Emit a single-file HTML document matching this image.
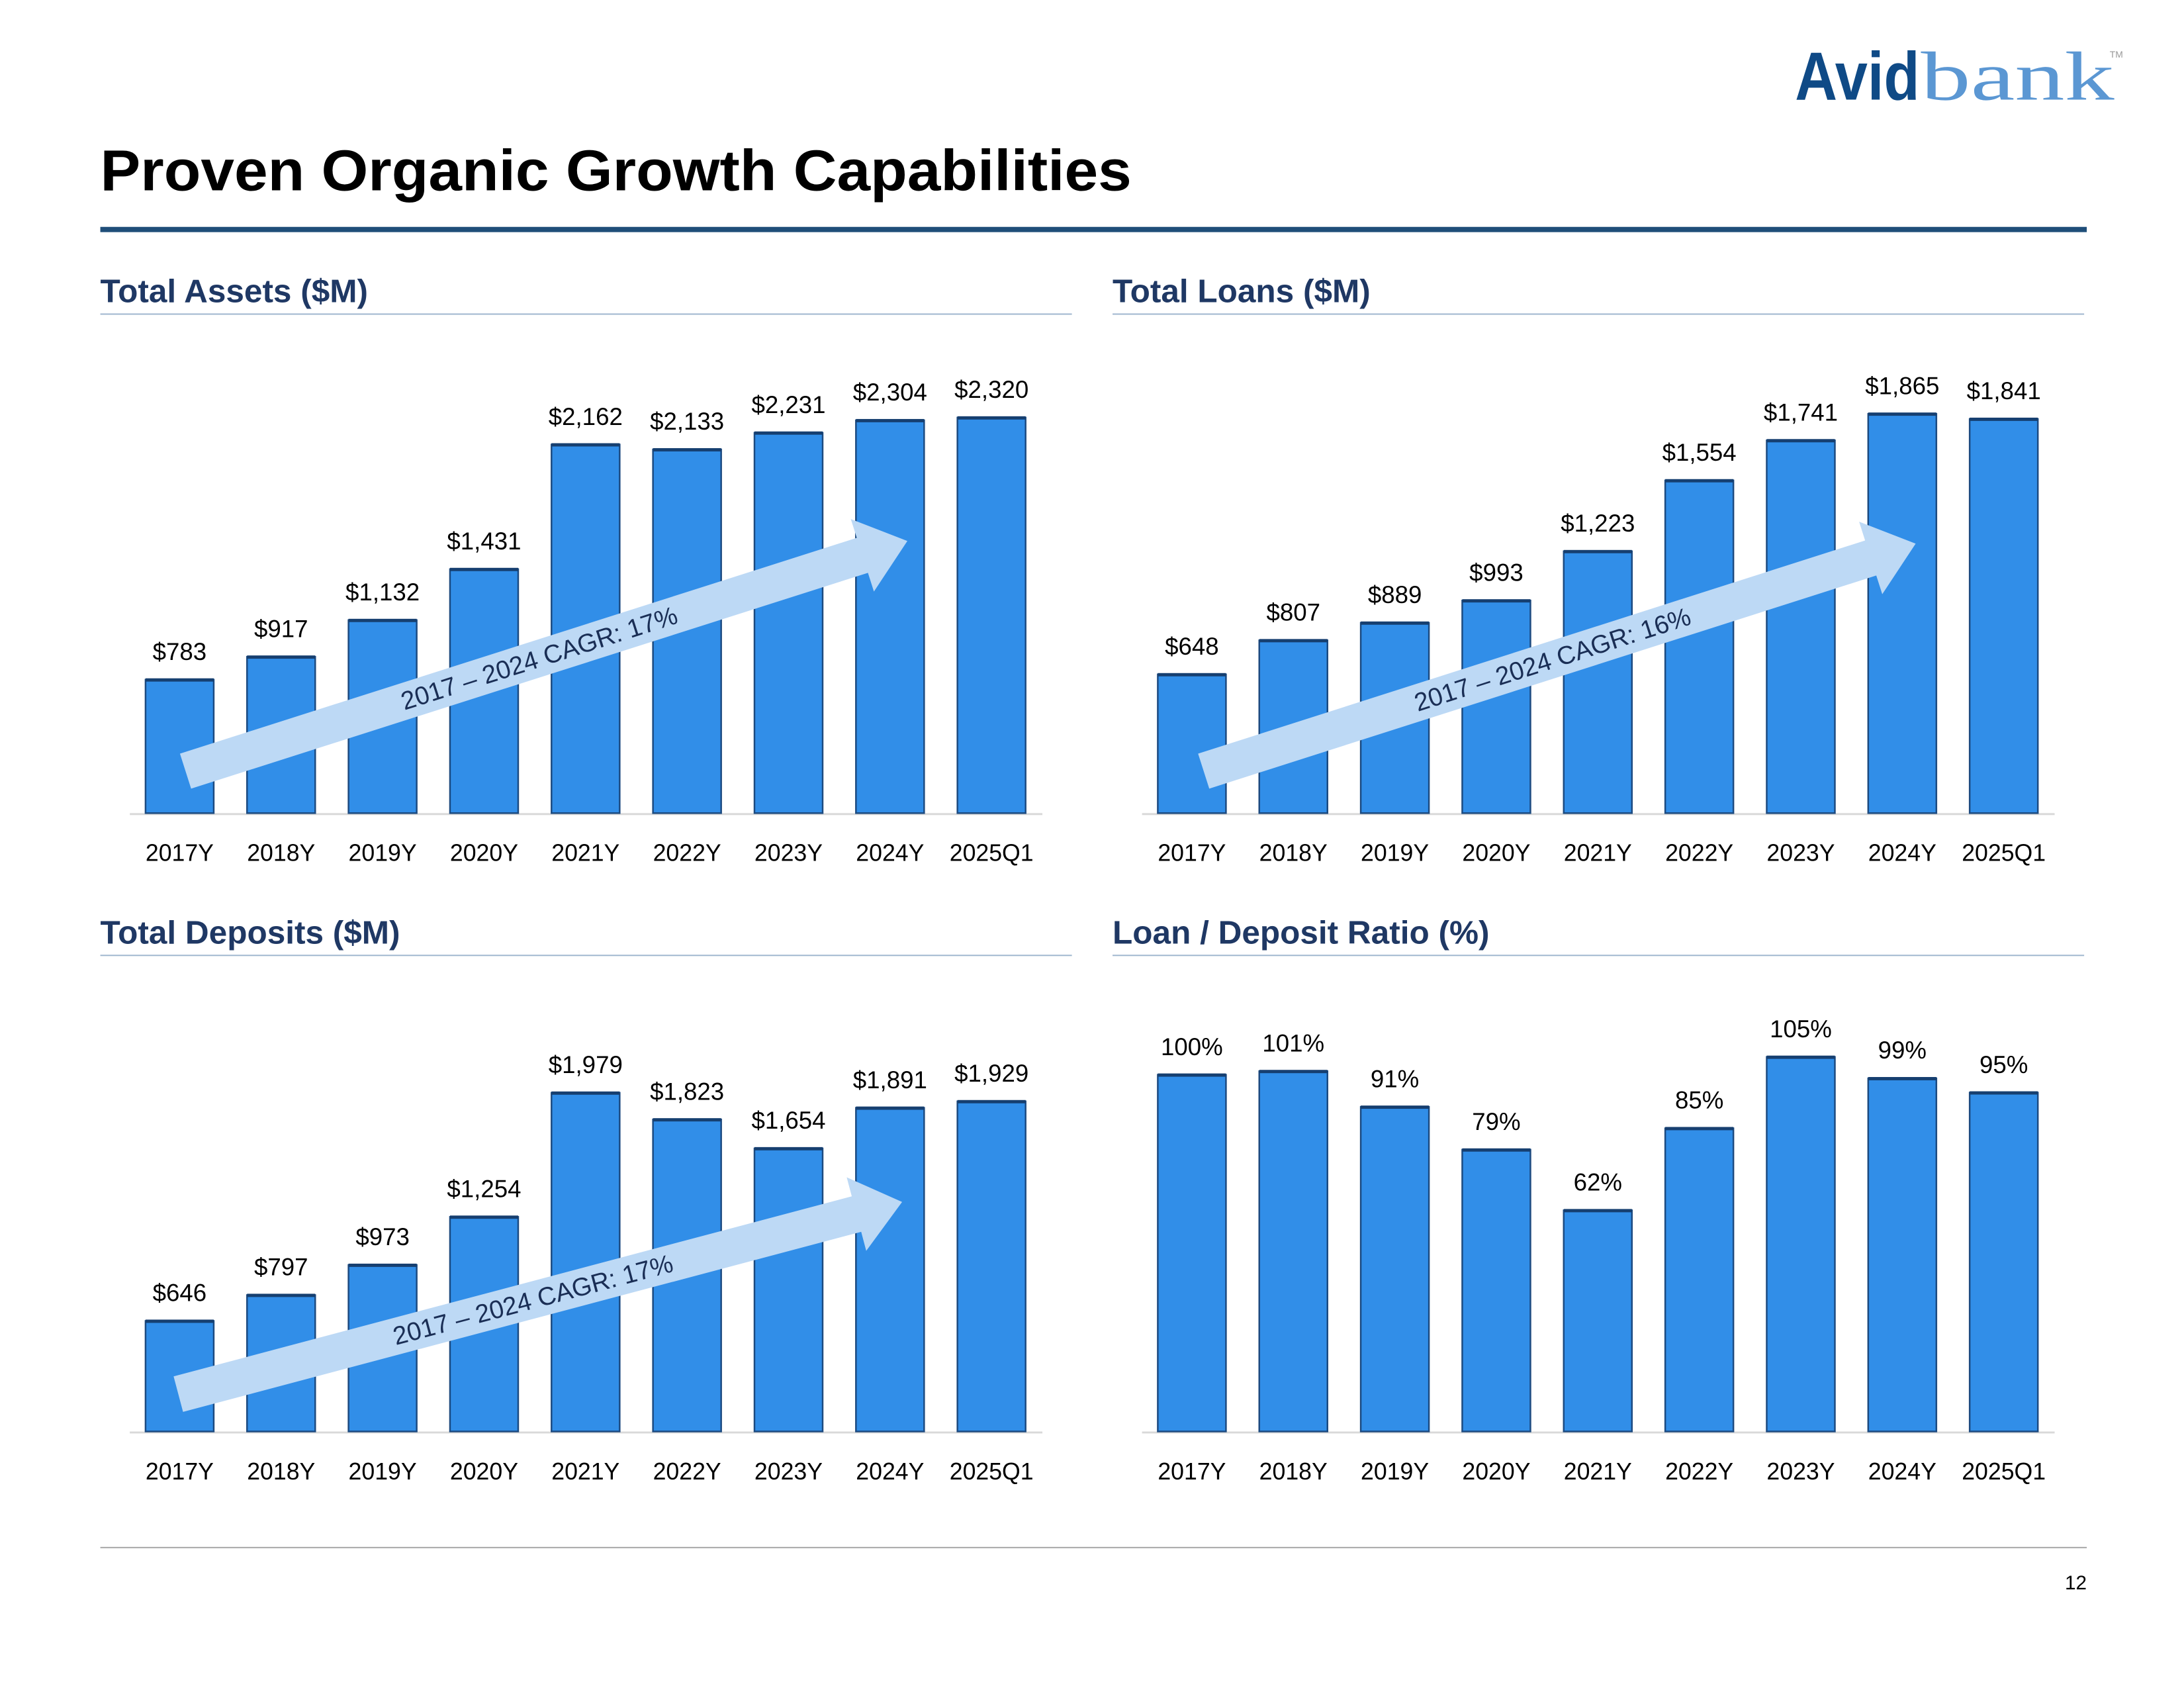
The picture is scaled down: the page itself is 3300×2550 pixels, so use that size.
<!DOCTYPE html>
<html><head><meta charset="utf-8"><style>
html,body{margin:0;padding:0;background:#fff;width:3300px;height:2550px;overflow:hidden}
svg{display:block}
text{font-family:"Liberation Sans",sans-serif}
</style></head><body>
<svg id="page" width="3300" height="2550" viewBox="0 0 3300 2550" xmlns="http://www.w3.org/2000/svg">
<g transform="scale(0.9906)">
<g>
<text x="2738" y="152" font-size="104" font-weight="bold" fill="#0f4a86" textLength="190" lengthAdjust="spacingAndGlyphs">Avid</text>
<text x="2930" y="152" font-size="106" fill="#5b97d3" style="font-family:'Liberation Serif',serif" textLength="295" lengthAdjust="spacingAndGlyphs">bank</text>
<text x="3218" y="88" font-size="14" fill="#999">TM</text>
</g>
<text x="153" y="290" font-size="88" font-weight="bold" fill="#000" textLength="1573" lengthAdjust="spacingAndGlyphs">Proven Organic Growth Capabilities</text>
<rect x="153" y="346" width="3030" height="8" fill="#1f4e79"/>
<rect x="153" y="2359" width="3030" height="2" fill="#a6a6a6"/>
<text x="3183" y="2424" font-size="30" text-anchor="end" fill="#000">12</text>
<g id="charts"></g>
</g>
</svg>
<script>
const categories = ["2017Y","2018Y","2019Y","2020Y","2021Y","2022Y","2023Y","2024Y","2025Q1"];
const assetsValues = [783,917,1132,1431,2162,2133,2231,2304,2320];
const loansValues = [648,807,889,993,1223,1554,1741,1865,1841];
const depositsValues = [646,797,973,1254,1979,1823,1654,1891,1929];
const ratioValues = [100,101,91,79,62,85,105,99,95];
const assetsLabels = ["$783","$917","$1,132","$1,431","$2,162","$2,133","$2,231","$2,304","$2,320"];
const loansLabels = ["$648","$807","$889","$993","$1,223","$1,554","$1,741","$1,865","$1,841"];
const depositsLabels = ["$646","$797","$973","$1,254","$1,979","$1,823","$1,654","$1,891","$1,929"];
const ratioLabels = ["100%","101%","91%","79%","62%","85%","105%","99%","95%"];
const chartTitles = ["Total Assets ($M)","Total Loans ($M)","Total Deposits ($M)","Loan / Deposit Ratio (%)"];
const cagrTexts = ["2017 – 2024 CAGR: 17%","2017 – 2024 CAGR: 16%","2017 – 2024 CAGR: 17%"];

const NS="http://www.w3.org/2000/svg";
const root=document.getElementById('charts');
function mk(tag,attrs,parent){const e=document.createElementNS(NS,tag);for(const k in attrs)e.setAttribute(k,attrs[k]);(parent||root).appendChild(e);return e;}

const panels=[
 {x0:153,hy:461,base:1240,perUnit:0.26,vals:assetsValues,labs:assetsLabels,name:"assets",arrow:{tx:283,ty:1176,hx:1384,hy:825,txt:0}},
 {x0:1697,hy:461,base:1240,perUnit:0.3265,vals:loansValues,labs:loansLabels,name:"loans",arrow:{tx:1836,ty:1176,hx:2922,hy:829,txt:1}},
 {x0:153,hy:1439,base:2183,perUnit:0.261,vals:depositsValues,labs:depositsLabels,name:"deposits",arrow:{tx:272,ty:2126,hx:1376,hy:1833,txt:2}},
 {x0:1697,hy:1439,base:2183,perUnit:5.44,vals:ratioValues,labs:ratioLabels,name:"loan-deposit-ratio",arrow:null}
];
panels.forEach((p,pi)=>{
 const g=mk('g',{});
 
 
 const t=mk('text',{x:p.x0,y:p.hy,'font-size':50,'font-weight':'bold',fill:'#1f3864'},g);
 t.textContent=chartTitles[pi];
 
 
 const ul=mk('rect',{x:p.x0,y:p.hy+17,width:1482,height:2,fill:'#9fb6cf'},g);
 
 
 const xOf=i=>p.x0+121+i*154.8;
 const yOf=v=>p.base-v*p.perUnit;
 const ax=mk('rect',{x:p.x0+45,y:p.base,width:1392,height:3,fill:'#d9d9d9'},g);
 
 
 p.vals.forEach((v,i)=>{
  const cx=xOf(i), top=yOf(v);
  const b=mk('rect',{x:cx-52,y:top,width:104,height:p.base-top,fill:'#318ee8',stroke:'#1c4a80','stroke-width':2.5},g);
  
  
  mk('rect',{x:cx-52,y:top-2,width:104,height:5,fill:'#163f70'},g);
  const l=mk('text',{x:cx,y:top-30,'font-size':37,'text-anchor':'middle',fill:'#000'},g);
  l.textContent=p.labs[i];
  
  
  const c=mk('text',{x:cx,y:p.base+73,'font-size':36,'text-anchor':'middle',fill:'#000'},g);
  c.textContent=categories[i];
  
  
 });
 if(p.arrow){
  const a=p.arrow;
  const dx=a.hx-a.tx, dy=a.hy-a.ty, L=Math.hypot(dx,dy), ang=Math.atan2(dy,dx)*180/Math.PI;
  const hw=28, hh=58, hl=72;
  const ag=mk('g',{transform:`translate(${a.tx},${a.ty}) rotate(${ang})`},g);
  
  
  mk('polygon',{points:`0,${-hw} ${L-hl},${-hw} ${L-hl},${-hh} ${L},0 ${L-hl},${hh} ${L-hl},${hw} 0,${hw}`,fill:'#bdd9f5'},ag);
  const tt=mk('text',{x:L*0.49,y:13,'font-size':39,'text-anchor':'middle',fill:'#1a2e55'},ag);
  tt.textContent=cagrTexts[a.txt];
  
  
 }
});
</script>
</body></html>
